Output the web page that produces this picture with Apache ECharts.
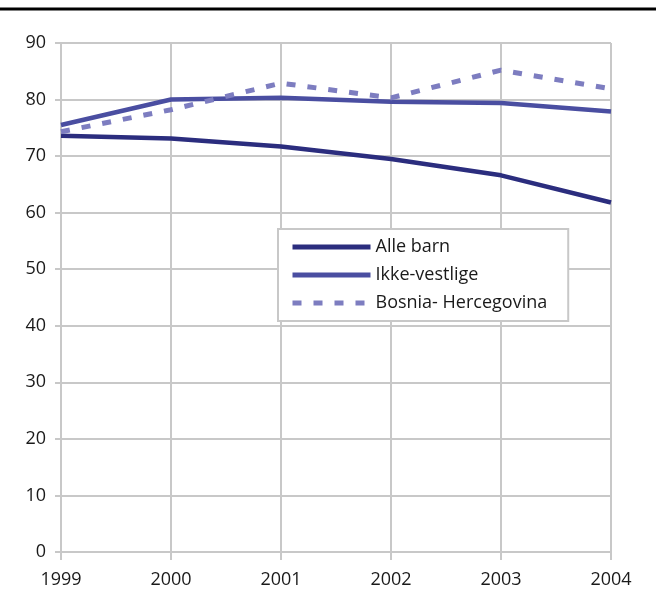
<!DOCTYPE html>
<html><head><meta charset="utf-8">
<script src="https://cdn.jsdelivr.net/npm/echarts@6/dist/echarts.min.js"></script>
<style>html,body{margin:0;padding:0;background:#fff}#c{width:656px;height:615px}</style>
</head><body><div id="c"></div>
<script>
const years = ['1999','2000','2001','2002','2003','2004'];
const alleBarn = [73.6, 73.1, 71.7, 69.5, 66.6, 61.8];
const ikkeVestlige = [75.5, 80.0, 80.3, 79.6, 79.4, 77.9];
const bosnia = [74.3, 78.2, 82.9, 80.3, 85.2, 81.9];
const seriesNames = ['Alle barn', 'Ikke-vestlige', 'Bosnia- Hercegovina'];

const grey = '#c8c8c8';
const font = '"Open Sans", "Noto Sans", sans-serif';
const chart = echarts.init(document.getElementById('c'), null, {renderer: 'canvas'});
chart.setOption({
  animation: false,
  textStyle: {fontFamily: font},
  graphic: [{type: 'line', shape: {x1: 0, y1: 9, x2: 656, y2: 9}, style: {stroke: '#000', lineWidth: 3}}],
  grid: {left: 61, right: 45, top: 43, bottom: 63},
  legend: {
    orient: 'vertical', left: 278, top: 229,
    backgroundColor: '#fff', borderColor: grey, borderWidth: 2,
    padding: [9, 21, 9, 12],
    itemWidth: 78, itemHeight: 18, itemGap: 10,
    itemStyle: {opacity: 0},
    lineStyle: {width: 5},
    textStyle: {fontSize: 18, color: '#1a1a1a', fontFamily: font},
    data: seriesNames
  },
  xAxis: {
    type: 'category', data: years, boundaryGap: false,
    axisLine: {lineStyle: {color: grey, width: 2}},
    axisTick: {show: true, length: 8, lineStyle: {color: grey, width: 2}},
    axisLabel: {fontSize: 18, color: '#1a1a1a', margin: 19},
    splitLine: {show: true, lineStyle: {color: grey, width: 2}}
  },
  yAxis: {
    type: 'value', min: 0, max: 90, interval: 10,
    axisLine: {show: true, lineStyle: {color: grey, width: 2}},
    axisTick: {show: true, length: 6, lineStyle: {color: grey, width: 2}},
    axisLabel: {fontSize: 18, color: '#1a1a1a', margin: 15},
    splitLine: {show: true, lineStyle: {color: grey, width: 2}}
  },
  series: [
    {name: seriesNames[0], type: 'line', data: alleBarn, symbol: 'none', color: '#2b2d7e', lineStyle: {width: 4.5, color: '#2b2d7e'}},
    {name: seriesNames[1], type: 'line', data: ikkeVestlige, symbol: 'none', color: '#4a4ea1', lineStyle: {width: 4.5, color: '#4a4ea1'}},
    {name: seriesNames[2], type: 'line', data: bosnia, symbol: 'none', color: '#7d7dc0', lineStyle: {width: 5, color: '#7d7dc0', type: [9, 12]}}
  ]
});
</script></body></html>
